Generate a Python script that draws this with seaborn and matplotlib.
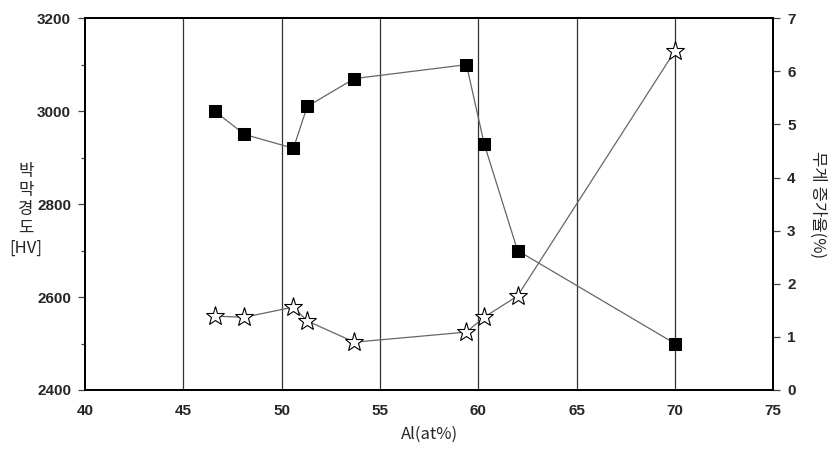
import numpy as np
import matplotlib
matplotlib.use("Agg")
import matplotlib.pyplot as plt
from matplotlib.ticker import MultipleLocator
import seaborn as sns

# Al content (at%) and the two measured series
al_content = [46.6, 48.1, 50.6, 51.3, 53.7, 59.4, 60.3, 62.0, 70.0]
hardness = [3000, 2950, 2920, 3010, 3070, 3100, 2930, 2700, 2500]
weight_gain = [1.39, 1.37, 1.56, 1.30, 0.90, 1.09, 1.37, 1.77, 6.38]

x_ticks = [40, 45, 50, 55, 60, 65, 70, 75]
left_ticks = [2400, 2600, 2800, 3000, 3200]
right_ticks = [0, 1, 2, 3, 4, 5, 6, 7]

sns.set_style("white")
plt.rcParams['font.family'] = ['Liberation Sans', 'Noto Sans CJK KR', 'DejaVu Sans']
kr_font = ['Noto Sans CJK KR', 'DejaVu Sans']

fig = plt.figure(figsize=(8.34, 4.54), dpi=100)
ax = fig.add_axes([0.102, 0.141, 0.825, 0.819])
ax2 = ax.twinx()

sns.lineplot(x=al_content, y=hardness, ax=ax, color='#666666', linewidth=0.9,
             marker='s', markersize=9, markerfacecolor='black',
             markeredgecolor='black', zorder=3)
sns.lineplot(x=al_content, y=weight_gain, ax=ax2, color='#666666', linewidth=0.9,
             marker='*', markersize=14, markerfacecolor='white',
             markeredgecolor='black', markeredgewidth=0.8, zorder=3)

ax.set_xlim(40, 75)
ax.set_ylim(2400, 3200)
ax2.set_ylim(0, 7)
ax.set_xticks(x_ticks)
ax.set_yticks(left_ticks)
ax2.set_yticks(right_ticks)
ax.xaxis.set_minor_locator(MultipleLocator(2.5))
ax.yaxis.set_minor_locator(MultipleLocator(100))

for a in (ax, ax2):
    for s in a.spines.values():
        s.set_color('black')
        s.set_linewidth(1.4)
    a.tick_params(which='major', direction='out', length=5, width=0.9, color='#444444',
                  labelsize=11, pad=5)
    a.tick_params(which='minor', direction='out', length=3, width=0.9, color='#444444')
    for lbl in a.get_xticklabels() + a.get_yticklabels():
        lbl.set_fontweight('bold')

ax.grid(False)
ax2.grid(False)
for xv in x_ticks[1:-1]:
    ax.axvline(xv, color='#333333', linewidth=0.9, zorder=1)

ax.set_xlabel('Al(at%)', family=kr_font, fontsize=12, labelpad=6)
# stacked (upright) Korean label, with the unit written separately underneath
ax.text(-0.086, 0.51, '박\n막\n경\n도', transform=ax.transAxes, family=kr_font,
        fontsize=12, rotation=0, ha='center', va='center', linespacing=1.15)
ax.text(-0.086, 0.38, '[HV]', transform=ax.transAxes, family=kr_font, fontsize=12,
        ha='center', va='center')
ax2.set_ylabel('무게 증가율(%)', family=kr_font, fontsize=12, rotation=270,
               va='center')
ax2.yaxis.set_label_coords(1.065, 0.5)

fig.savefig('out.png', dpi=100)
